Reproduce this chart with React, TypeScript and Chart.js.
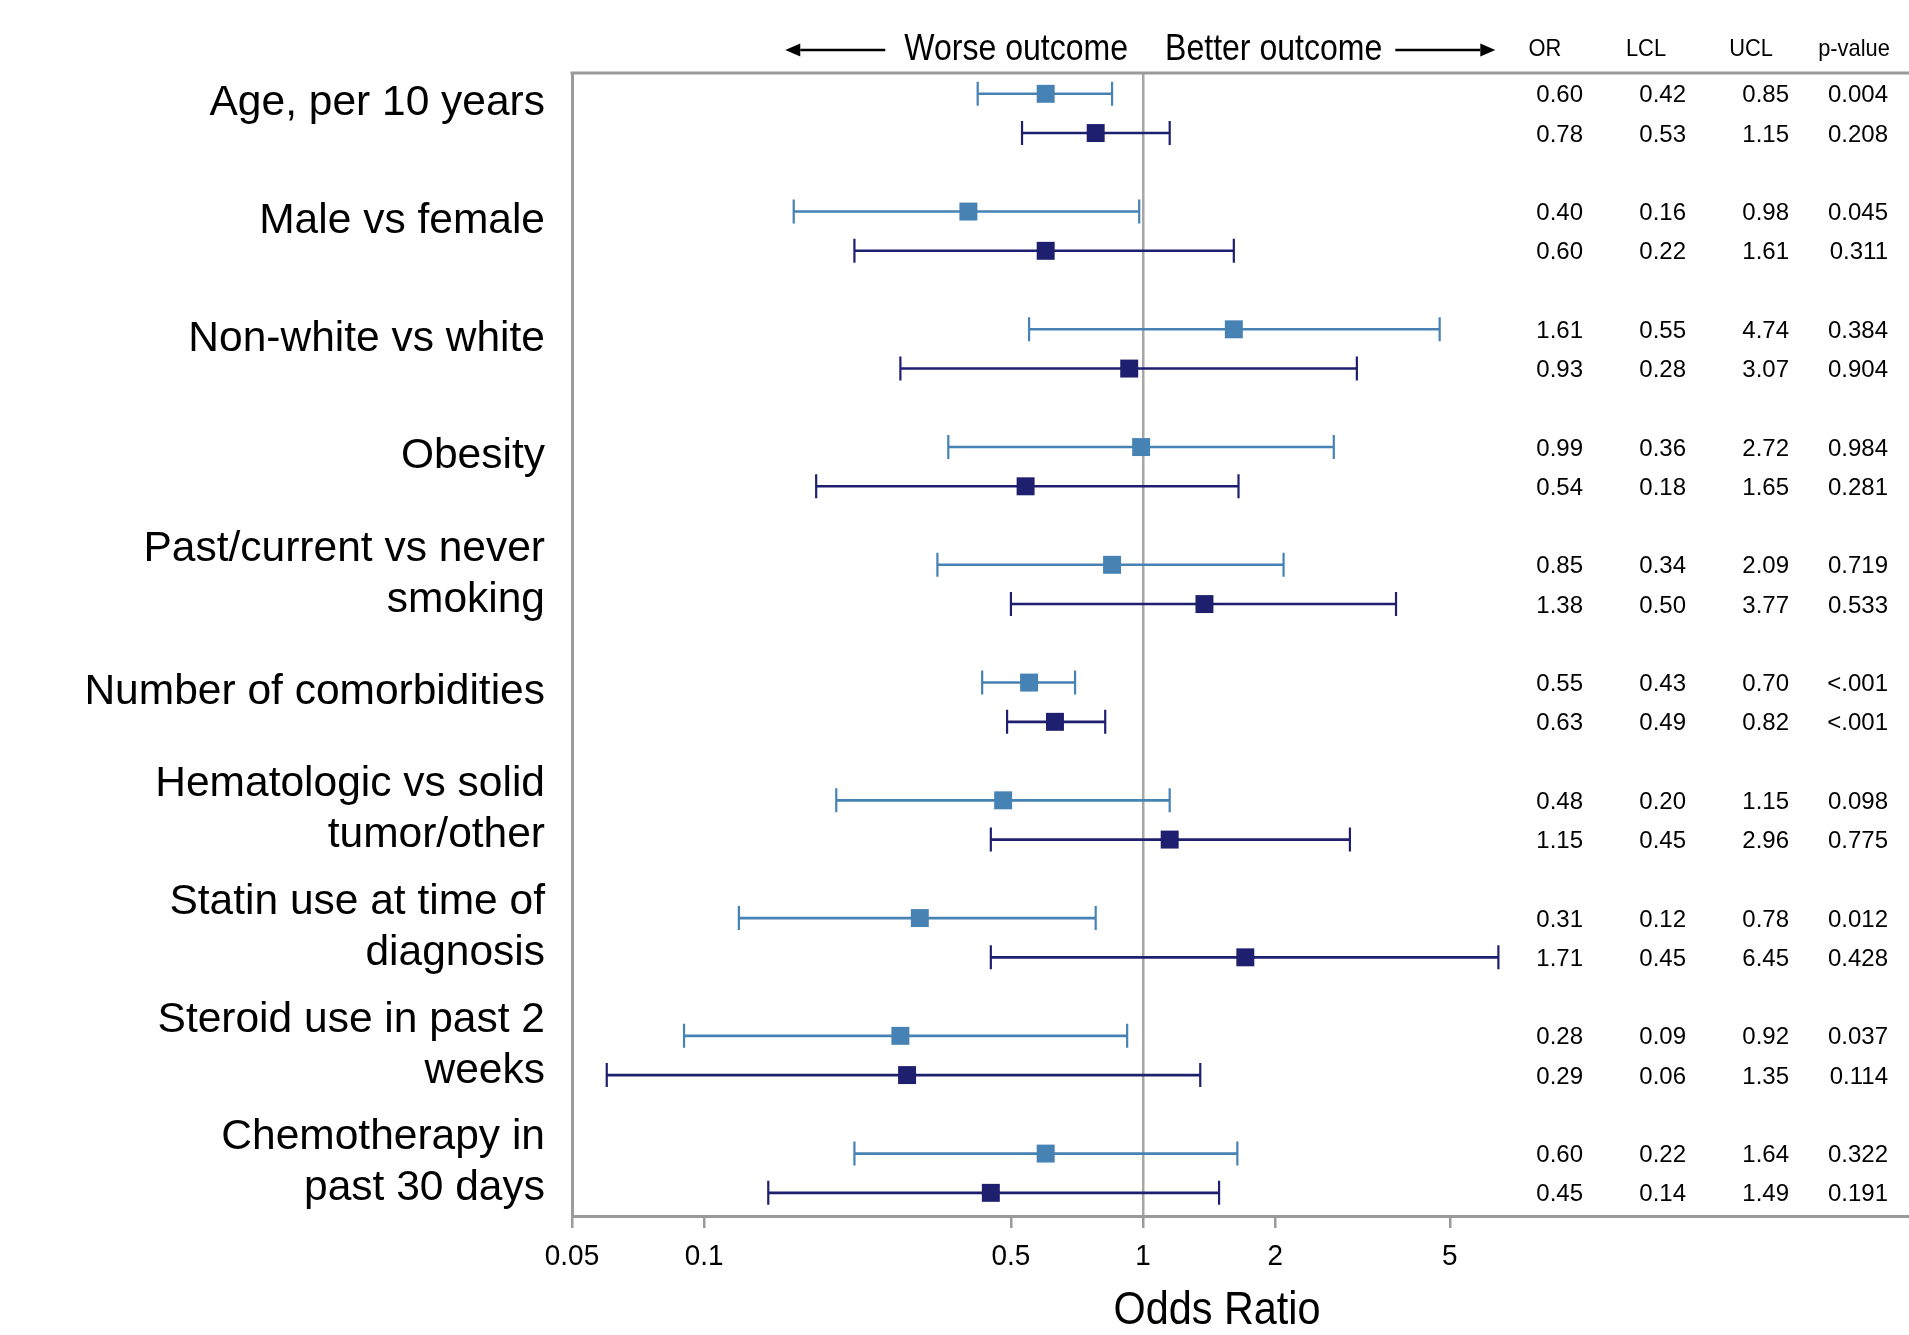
import React, { useEffect, useRef } from 'react';
import { Chart, registerables } from 'chart.js';

Chart.register(...registerables);

// ---------- data ----------
const groupLabels: string[][] = [
  ['Age, per 10 years'],
  ['Male vs female'],
  ['Non-white vs white'],
  ['Obesity'],
  ['Past/current vs never', 'smoking'],
  ['Number of comorbidities'],
  ['Hematologic vs solid', 'tumor/other'],
  ['Statin use at time of', 'diagnosis'],
  ['Steroid use in past 2', 'weeks'],
  ['Chemotherapy in', 'past 30 days'],
];

// first row of each pair (light blue)
const orA = [0.60, 0.40, 1.61, 0.99, 0.85, 0.55, 0.48, 0.31, 0.28, 0.60];
const lclA = [0.42, 0.16, 0.55, 0.36, 0.34, 0.43, 0.20, 0.12, 0.09, 0.22];
const uclA = [0.85, 0.98, 4.74, 2.72, 2.09, 0.70, 1.15, 0.78, 0.92, 1.64];
const pA = ['0.004', '0.045', '0.384', '0.984', '0.719', '<.001', '0.098', '0.012', '0.037', '0.322'];

// second row of each pair (dark navy)
const orB = [0.78, 0.60, 0.93, 0.54, 1.38, 0.63, 1.15, 1.71, 0.29, 0.45];
const lclB = [0.53, 0.22, 0.28, 0.18, 0.50, 0.49, 0.45, 0.45, 0.06, 0.14];
const uclB = [1.15, 1.61, 3.07, 1.65, 3.77, 0.82, 2.96, 6.45, 1.35, 1.49];
const pB = ['0.208', '0.311', '0.904', '0.281', '0.533', '<.001', '0.775', '0.428', '0.114', '0.191'];

const xTickValues = [0.05, 0.1, 0.5, 1, 2, 5];
const tableHeaders = ['OR', 'LCL', 'UCL', 'p-value'];
const worseText = 'Worse outcome';
const betterText = 'Better outcome';
const xTitle = 'Odds Ratio';

// ---------- styles ----------
const COLOR_A = '#4682B4';
const COLOR_B = '#1F1F6F';
const AXIS_GRAY = '#9a9a9a';
const REF_GRAY = '#a6a6a6';
const FONT = '"Liberation Sans", Arial, Helvetica, sans-serif';

const W = 1909;
const H = 1335;

function condText(
  ctx: CanvasRenderingContext2D,
  text: string,
  x: number,
  y: number,
  size: number,
  sx: number,
  align: CanvasTextAlign
) {
  ctx.save();
  ctx.font = `${size}px ${FONT}`;
  ctx.textAlign = align;
  ctx.textBaseline = 'middle';
  ctx.fillStyle = '#000';
  ctx.translate(x, y);
  ctx.scale(sx, 1);
  ctx.fillText(text, 0, 0);
  ctx.restore();
}

function textWidth(ctx: CanvasRenderingContext2D, text: string, size: number, sx: number) {
  ctx.save();
  ctx.font = `${size}px ${FONT}`;
  const w = ctx.measureText(text).width * sx;
  ctx.restore();
  return w;
}

function arrow(ctx: CanvasRenderingContext2D, xFrom: number, xTip: number, y: number) {
  const dir = xTip > xFrom ? 1 : -1;
  const headLen = 15;
  const headHalf = 6.5;
  ctx.save();
  ctx.strokeStyle = '#000';
  ctx.fillStyle = '#000';
  ctx.lineWidth = 2.6;
  ctx.beginPath();
  ctx.moveTo(xFrom, y);
  ctx.lineTo(xTip - dir * headLen, y);
  ctx.stroke();
  ctx.beginPath();
  ctx.moveTo(xTip, y);
  ctx.lineTo(xTip - dir * headLen, y - headHalf);
  ctx.lineTo(xTip - dir * headLen, y + headHalf);
  ctx.closePath();
  ctx.fill();
  ctx.restore();
}

const forestPlugin = {
  id: 'forestPlugin',
  beforeDatasetsDraw(chart: any) {
    const { ctx, scales } = chart;
    const x = scales.x;
    const y = scales.y;
    const series: [number[], number[], string, number][] = [
      [lclA, uclA, COLOR_A, 0],
      [lclB, uclB, COLOR_B, 1],
    ];
    ctx.save();
    series.forEach(([lcl, ucl, color, off]) => {
      lcl.forEach((lo, i) => {
        const yp = y.getPixelForValue(3 * i + off);
        const x1 = x.getPixelForValue(lo);
        const x2 = x.getPixelForValue(ucl[i]);
        ctx.strokeStyle = color;
        ctx.lineWidth = 2.6;
        ctx.beginPath();
        ctx.moveTo(x1, yp);
        ctx.lineTo(x2, yp);
        ctx.stroke();
        ctx.lineWidth = 2.2;
        ctx.beginPath();
        ctx.moveTo(x1, yp - 12);
        ctx.lineTo(x1, yp + 12);
        ctx.moveTo(x2, yp - 12);
        ctx.lineTo(x2, yp + 12);
        ctx.stroke();
      });
    });
    ctx.restore();
  },
  afterDraw(chart: any) {
    const { ctx, scales, chartArea } = chart;
    const x = scales.x;
    const y = scales.y;

    // top frame line across the whole width
    ctx.save();
    ctx.strokeStyle = AXIS_GRAY;
    ctx.lineWidth = 3;
    ctx.beginPath();
    ctx.moveTo(chartArea.left - 1.5, chartArea.top);
    ctx.lineTo(W, chartArea.top);
    ctx.stroke();
    ctx.restore();

    // group labels
    ctx.save();
    ctx.font = `42.5px ${FONT}`;
    ctx.textAlign = 'right';
    ctx.textBaseline = 'middle';
    ctx.fillStyle = '#000';
    groupLabels.forEach((lines, i) => {
      const yc = (y.getPixelForValue(3 * i) + y.getPixelForValue(3 * i + 1)) / 2 - 10;
      lines.forEach((line, k) => {
        ctx.fillText(line, 545, yc + (k - (lines.length - 1) / 2) * 51);
      });
    });
    ctx.restore();

    // table
    const colRight = [1583, 1686, 1789, 1888];
    const colHead = [1545, 1646, 1751, 1854];
    tableHeaders.forEach((h, j) => condText(ctx, h, colHead[j], 49, 24, 0.91, 'center'));
    ctx.save();
    ctx.font = `24px ${FONT}`;
    ctx.textAlign = 'right';
    ctx.textBaseline = 'middle';
    ctx.fillStyle = '#000';
    const rows: [number[], number[], number[], string[], number][] = [
      [orA, lclA, uclA, pA, 0],
      [orB, lclB, uclB, pB, 1],
    ];
    rows.forEach(([or, lcl, ucl, p, off]) => {
      or.forEach((v, i) => {
        const yp = y.getPixelForValue(3 * i + off) + 2;
        ctx.fillText(v.toFixed(2), colRight[0], yp);
        ctx.fillText(lcl[i].toFixed(2), colRight[1], yp);
        ctx.fillText(ucl[i].toFixed(2), colRight[2], yp);
        ctx.fillText(p[i], colRight[3], yp);
      });
    });
    ctx.restore();

    // direction header
    const x1 = x.getPixelForValue(1);
    const hy = 50;
    const sxH = 0.89;
    const worseRight = x1 - 15;
    const ww = textWidth(ctx, worseText, 36, sxH);
    condText(ctx, worseText, worseRight, hy, 36, sxH, 'right');
    arrow(ctx, worseRight - ww - 19, worseRight - ww - 119, hy);
    const betterLeft = x1 + 22;
    const bw = textWidth(ctx, betterText, 36, sxH);
    condText(ctx, betterText, betterLeft, hy, 36, sxH, 'left');
    arrow(ctx, betterLeft + bw + 13, betterLeft + bw + 113, hy);

    // x tick labels
    x.ticks.forEach((t: any) => {
      const px = x.getPixelForValue(t.value);
      condText(ctx, String(t.value), px, 1257, 30, 0.93, 'center');
    });

    // x axis title
    condText(ctx, xTitle, 1217, 1311, 46, 0.9, 'center');
  },
};

export default function App() {
  const canvasRef = useRef<HTMLCanvasElement | null>(null);

  useEffect(() => {
    document.body.style.margin = '0';
    const canvas = canvasRef.current;
    if (!canvas) return;
    const chart = new Chart(canvas, {
      type: 'scatter',
      data: {
        datasets: [
          {
            label: 'A',
            data: orA.map((v, i) => ({ x: v, y: 3 * i })),
            backgroundColor: COLOR_A,
            borderWidth: 0,
            pointStyle: 'rect',
            pointRadius: 12.7,
            pointHoverRadius: 12.7,
          },
          {
            label: 'B',
            data: orB.map((v, i) => ({ x: v, y: 3 * i + 1 })),
            backgroundColor: COLOR_B,
            borderWidth: 0,
            pointStyle: 'rect',
            pointRadius: 12.7,
            pointHoverRadius: 12.7,
          },
        ],
      },
      options: {
        animation: false,
        responsive: false,
        devicePixelRatio: 1,
        events: [],
        layout: { autoPadding: false, padding: { left: 572, right: 0, top: 73, bottom: 0 } },
        plugins: {
          legend: { display: false },
          tooltip: { enabled: false },
          title: { display: false },
        },
        scales: {
          x: {
            type: 'logarithmic',
            position: 'bottom',
            min: 0.05,
            max: 55.6,
            afterBuildTicks: (s: any) => {
              s.ticks = xTickValues.map((v) => ({ value: v }));
            },
            afterFit: (s: any) => {
              s.height = 119;
            },
            ticks: { display: false },
            grid: {
              color: (c: any) => (c.tick && c.tick.value === 1 ? REF_GRAY : 'rgba(0,0,0,0)'),
              lineWidth: 2.5,
              drawTicks: true,
              tickLength: 12,
              tickColor: AXIS_GRAY,
              tickWidth: 2.5,
            },
            border: { display: true, color: AXIS_GRAY, width: 3 },
          },
          y: {
            type: 'linear',
            position: 'left',
            reverse: true,
            min: -0.53,
            max: 28.59,
            afterFit: (s: any) => {
              s.width = 0;
            },
            ticks: { display: false },
            grid: { display: false, drawTicks: false },
            border: { display: true, color: AXIS_GRAY, width: 3 },
          },
        },
      } as any,
      plugins: [forestPlugin],
    });
    return () => chart.destroy();
  }, []);

  return (
    <div style={{ width: W, height: H, background: '#fff' }}>
      <canvas ref={canvasRef} width={W} height={H} style={{ display: 'block', width: W, height: H }} />
    </div>
  );
}
